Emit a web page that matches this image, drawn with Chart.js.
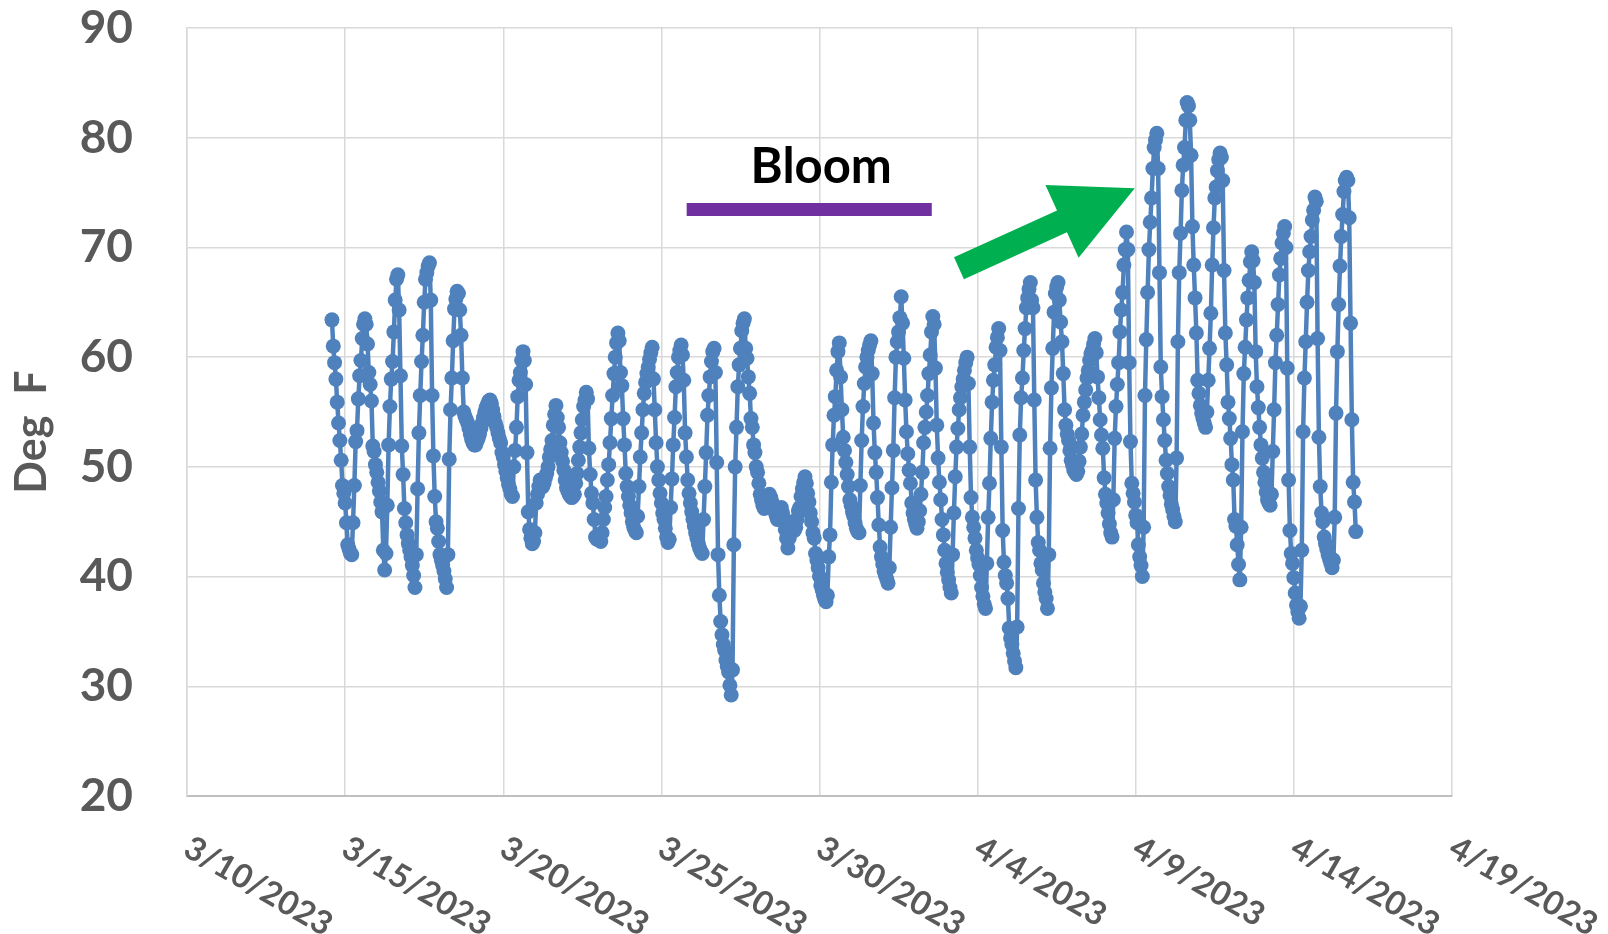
<!DOCTYPE html>
<html lang="en">
<head>
<meta charset="UTF-8">
<title>Deg F</title>
<script src="https://cdn.jsdelivr.net/npm/chart.js@4"></script>
<style>
  html, body { margin: 0; padding: 0; background: #fff; }
  #wrap { width: 1608px; height: 934px; }
</style>
</head>
<body>
<div id="wrap"><canvas id="tempChart" width="1608" height="934"></canvas></div>
<script>
// hourly readings (Deg F); first reading is 3/14/2023 14:00
// x axis is "days after 3/10/2023"
const startDay = 4 + 14 / 24;

const mar14to20 = [
  63.4, 61.0, 59.5, 58.0, 55.9, 54.0, 52.4, 50.6, 48.3, 47.6,
  46.7, 44.9, 42.9, 42.5, 42.1, 42.0, 44.9, 48.3, 52.3, 53.3, 56.2, 58.3, 59.7, 61.7, 63.0, 63.5, 63.0, 61.2, 58.6, 57.5, 56.0, 51.9, 51.4, 50.2,
  49.5, 48.6, 47.8, 46.8, 45.9, 42.4, 40.6, 42.1, 46.5, 52.0, 55.5, 58.0, 59.6, 62.3, 65.2, 67.1, 67.5, 64.3, 58.3, 51.9, 49.3, 46.2, 44.9, 43.8,
  43.0, 42.4, 41.8, 41.0, 40.1, 39.0, 42.0, 48.0, 53.1, 56.5, 59.6, 62.0, 65.0, 67.1, 67.7, 68.3, 68.6, 65.2, 56.5, 51.0, 47.3, 45.0, 44.4, 43.2,
  42.0, 41.5, 41.0, 40.5, 39.8, 39.0, 42.0, 50.7, 55.2, 58.1, 61.5, 64.4, 65.3, 66.0, 65.8, 64.3, 62.0, 58.1, 55.0, 54.6, 54.3, 54.0, 53.5, 53.0,
  52.5, 52.2, 52.0, 52.0, 52.3, 52.6, 53.0, 53.5, 54.0, 54.5, 55.0, 55.4, 55.7, 56.0, 56.1, 55.8, 55.2, 54.6, 54.0, 53.6, 53.1, 52.6, 52.2, 51.3,
  50.9, 50.2, 49.6, 49.0, 48.4, 48.0, 47.5, 47.3, 50.0, 51.5, 53.6, 56.4, 57.9, 58.6, 59.7, 60.5, 59.7, 57.5, 51.3, 45.9, 44.3, 43.5, 43.0, 43.2
];
const mar21to27 = [
  44.0, 46.7, 47.5, 48.2, 48.8, 48.5, 48.2, 48.5, 49.0, 49.4, 50.0, 50.9, 51.6, 52.4, 53.8, 54.8, 55.6, 54.5, 53.6, 52.2, 51.3, 50.5, 49.7, 48.8,
  48.1, 47.8, 47.5, 47.3, 47.2, 47.3, 47.5, 48.5, 49.4, 50.6, 51.8, 53.1, 54.3, 55.5, 56.1, 56.8, 56.2, 51.7, 49.3, 47.6, 46.7, 45.2, 43.6, 43.4,
  43.6, 43.4, 43.2, 44.0, 45.2, 46.3, 47.3, 48.8, 50.2, 52.2, 54.4, 56.5, 58.5, 60.0, 61.3, 62.2, 61.5, 58.6, 57.4, 54.4, 52.0, 49.4, 48.2, 47.3,
  46.5, 45.8, 45.0, 44.5, 44.2, 44.0, 45.5, 48.2, 50.9, 53.1, 55.2, 56.7, 57.7, 58.5, 59.1, 59.8, 60.4, 60.9, 58.0, 55.2, 52.2, 50.0, 48.8, 47.6,
  46.7, 45.8, 45.2, 44.4, 43.6, 43.1, 43.4, 46.3, 48.9, 52.0, 54.5, 57.3, 58.6, 60.0, 60.6, 61.1, 60.2, 57.9, 53.1, 50.9, 48.8, 47.6, 46.7, 45.9,
  45.2, 44.6, 44.0, 43.5, 43.0, 42.6, 42.3, 42.1, 45.2, 48.2, 51.3, 54.7, 56.5, 58.2, 59.6, 60.5, 60.8, 58.6, 50.4, 42.0, 38.3, 35.9, 34.7, 33.8,
  33.3, 32.4, 31.8, 31.3, 30.1, 29.2, 31.5, 42.9, 50.0, 53.6, 57.3, 59.3, 60.8, 62.4, 63.1, 63.5, 60.8, 59.9, 58.2, 56.7, 54.4, 53.6, 52.0, 51.3
];
const mar28toApr3 = [
  50.0, 49.5, 48.5, 47.5, 47.0, 46.5, 46.2, 46.3, 46.8, 47.3, 47.5, 47.2, 46.8, 46.4, 46.0, 45.6, 45.2, 45.5, 46.0, 46.3, 45.8, 45.0, 44.3, 43.5,
  42.6, 43.5, 44.3, 45.0, 44.6, 44.2, 44.5, 45.2, 46.0, 46.3, 47.3, 48.0, 48.6, 49.1, 48.5, 47.6, 46.8, 45.8, 45.0, 44.0, 43.5, 42.1, 41.5, 40.8,
  40.0, 39.2, 38.8, 38.3, 37.9, 37.7, 38.3, 41.8, 43.8, 48.6, 52.0, 54.7, 56.4, 58.8, 60.5, 61.3, 58.2, 55.2, 52.7, 51.5, 50.4, 49.3, 48.2, 47.0,
  46.5, 45.9, 45.5, 44.9, 44.4, 44.1, 44.0, 48.3, 52.4, 55.5, 57.6, 59.1, 60.0, 60.6, 61.1, 61.5, 58.5, 54.0, 51.3, 49.5, 47.2, 44.7, 42.7, 41.8,
  41.1, 40.5, 40.1, 39.8, 39.4, 40.8, 44.5, 48.1, 51.5, 56.3, 60.0, 61.4, 62.3, 63.6, 65.5, 63.1, 59.9, 56.1, 53.2, 51.2, 49.7, 48.5, 46.7, 45.8,
  45.2, 44.8, 44.4, 45.0, 46.0, 47.5, 49.5, 52.2, 53.6, 55.0, 56.5, 58.5, 60.2, 62.3, 63.7, 63.0, 59.0, 53.8, 50.8, 48.6, 47.0, 45.2, 43.8, 42.4,
  41.2, 40.4, 39.7, 39.0, 38.5, 42.0, 45.8, 49.1, 51.8, 53.5, 55.2, 56.3, 57.3, 58.0, 58.8, 59.5, 60.0, 57.6, 51.8, 47.2, 45.4, 44.5, 43.5, 42.4
];
const apr4to10 = [
  41.7, 41.1, 40.1, 39.0, 38.2, 37.5, 37.1, 41.2, 45.4, 48.5, 52.6, 55.9, 57.9, 59.3, 60.9, 61.8, 62.6, 60.6, 51.8, 44.2, 41.3, 40.1, 39.4, 38.0,
  35.3, 34.4, 33.8, 33.0, 32.3, 31.7, 35.4, 46.2, 52.9, 56.3, 58.1, 60.6, 62.6, 64.5, 65.4, 66.2, 66.8, 65.2, 64.5, 56.1, 48.8, 45.4, 43.1, 42.4,
  41.2, 40.6, 39.4, 38.6, 38.0, 37.1, 42.0, 51.7, 57.2, 60.8, 64.1, 65.8, 66.4, 66.8, 65.2, 63.2, 61.4, 58.5, 55.2, 53.8, 53.0, 52.4, 51.5, 50.6,
  50.2, 49.7, 49.5, 49.3, 49.6, 50.5, 51.8, 53.0, 54.7, 55.9, 57.0, 58.1, 58.8, 59.7, 60.3, 60.6, 61.2, 61.7, 60.4, 58.2, 56.3, 54.3, 52.9, 51.7,
  49.0, 47.5, 46.7, 45.8, 44.8, 44.0, 43.6, 47.0, 52.6, 55.5, 57.5, 59.5, 62.3, 64.3, 65.9, 68.4, 69.8, 71.4, 69.8, 59.5, 52.3, 48.5, 47.6, 46.8,
  45.6, 44.9, 42.9, 41.8, 41.0, 40.0, 44.5, 56.5, 61.6, 65.9, 69.8, 72.3, 74.5, 77.2, 79.1, 79.8, 80.4, 77.2, 67.7, 59.1, 56.4, 54.3, 52.4, 50.6,
  49.4, 48.2, 47.4, 46.6, 46.1, 45.5, 45.0, 50.8, 61.4, 67.7, 71.3, 75.2, 77.5, 79.1, 81.6, 83.2, 82.9, 81.6, 78.4, 71.9, 68.4, 65.4, 62.2, 57.9
];
const apr11to15 = [
  56.7, 55.6, 54.9, 54.4, 54.0, 53.6, 55.0, 57.9, 60.8, 64.0, 68.4, 71.8, 74.5, 75.5, 77.0, 78.0, 78.6, 78.2, 76.1, 67.9, 62.2, 59.3, 55.9, 54.4,
  52.6, 50.2, 48.8, 45.2, 44.6, 42.9, 41.1, 39.7, 44.5, 53.2, 58.5, 60.9, 63.4, 65.4, 67.0, 68.7, 69.6, 68.8, 66.8, 60.5, 57.3, 55.4, 53.6, 52.0,
  50.8, 49.5, 48.6, 47.7, 47.0, 46.7, 46.5, 47.5, 51.4, 55.2, 59.5, 62.0, 64.8, 67.5, 69.0, 70.4, 71.3, 71.9, 70.0, 59.0, 48.8, 44.2, 42.1, 41.2,
  39.9, 38.5, 37.4, 36.8, 36.2, 37.3, 42.4, 53.2, 58.1, 61.4, 65.0, 67.9, 69.6, 71.0, 72.5, 73.4, 74.6, 74.2, 61.7, 52.7, 48.2, 45.8, 45.0, 43.6,
  43.0, 42.5, 42.0, 41.6, 41.2, 40.8, 41.5, 45.4, 54.9, 60.5, 64.8, 68.3, 71.0, 73.0, 75.1, 76.1, 76.4, 76.1, 72.7, 63.1, 54.3, 48.6, 46.8, 44.1
];

const xTickLabels = ['3/10/2023', '3/15/2023', '3/20/2023', '3/25/2023', '3/30/2023',
                     '4/4/2023', '4/9/2023', '4/14/2023', '4/19/2023'];

// bloom period bar (days after 3/10) and its height on the Deg F scale
const bloomSpan = [15.8, 23.55];
const bloomLevel = 73.45;
// green arrow: from (day, Deg F) to (day, Deg F)
const arrowFrom = [24.41, 68.1];
const arrowTo = [29.97, 75.4];

const temps = [...mar14to20, ...mar21to27, ...mar28toApr3, ...apr4to10, ...apr11to15];
const tempPoints = temps.map((t, i) => ({ x: startDay + i / 24, y: t }));

const overlay = {
  id: 'overlay',
  afterDatasetsDraw(chart) {
    const { ctx, scales: { x, y } } = chart;
    ctx.save();
    // Bloom label
    ctx.fillStyle = '#000';
    ctx.font = 'bold 49px Lato';
    ctx.textAlign = 'center';
    ctx.textBaseline = 'middle';
    ctx.fillText('Bloom', x.getPixelForValue((bloomSpan[0] + bloomSpan[1]) / 2) + 12, y.getPixelForValue(bloomLevel) - 42);

    // arrow
    const ax = x.getPixelForValue(arrowFrom[0]), ay = y.getPixelForValue(arrowFrom[1]);
    const bx = x.getPixelForValue(arrowTo[0]), by = y.getPixelForValue(arrowTo[1]);
    const len = Math.hypot(bx - ax, by - ay);
    const ux = (bx - ax) / len, uy = (by - ay) / len;
    const nx = -uy, ny = ux;
    const shaft = 12, head = 40, headLen = 80;
    const hx = bx - ux * headLen, hy = by - uy * headLen;
    ctx.beginPath();
    ctx.moveTo(ax + nx * shaft, ay + ny * shaft);
    ctx.lineTo(hx + nx * shaft, hy + ny * shaft);
    ctx.lineTo(hx + nx * head, hy + ny * head);
    ctx.lineTo(bx, by);
    ctx.lineTo(hx - nx * head, hy - ny * head);
    ctx.lineTo(hx - nx * shaft, hy - ny * shaft);
    ctx.lineTo(ax - nx * shaft, ay - ny * shaft);
    ctx.closePath();
    ctx.fillStyle = '#00B050';
    ctx.fill();
    ctx.restore();
  },
  afterDraw(chart) {
    const { ctx, scales: { x, y } } = chart;
    ctx.save();
    ctx.fillStyle = '#595959';
    // slanted date labels
    ctx.font = 'bold 33px Lato';
    ctx.textAlign = 'left';
    ctx.textBaseline = 'top';
    xTickLabels.forEach((lab, i) => {
      ctx.save();
      ctx.translate(x.getPixelForValue(i * 5) + 8, y.bottom + 35);
      ctx.rotate(30 * Math.PI / 180);
      ctx.fillText(lab, 0, 0);
      ctx.restore();
    });
    // y axis title
    ctx.font = 'bold 43px Lato';
    ctx.textAlign = 'center';
    ctx.textBaseline = 'alphabetic';
    ctx.translate(46, 432);
    ctx.rotate(-Math.PI / 2);
    ctx.fillText('Deg  F', 0, 0);
    ctx.restore();
  }
};

new Chart(document.getElementById('tempChart'), {
  type: 'line',
  data: {
    datasets: [
      {
        data: tempPoints,
        borderColor: '#4F81BD',
        backgroundColor: '#4F81BD',
        borderWidth: 4.5,
        borderJoinStyle: 'round',
        pointRadius: 7.5,
        pointBorderWidth: 0,
        pointBackgroundColor: '#4F81BD',
        tension: 0
      },
      {
        data: [{ x: bloomSpan[0], y: bloomLevel }, { x: bloomSpan[1], y: bloomLevel }],
        borderColor: '#7030A0',
        borderWidth: 13,
        borderCapStyle: 'butt',
        pointRadius: 0
      }
    ]
  },
  options: {
    responsive: false,
    animation: false,
    layout: { padding: { top: 28, right: 156, left: 0, bottom: 0 } },
    plugins: { legend: { display: false }, tooltip: { enabled: false } },
    scales: {
      x: {
        type: 'linear',
        min: 0,
        max: 40,
        ticks: { stepSize: 5, display: false },
        grid: { color: '#d9d9d9', lineWidth: 1.5, drawTicks: false },
        border: { color: '#bfbfbf', width: 2 },
        afterFit(scale) { scale.height = 138; }
      },
      y: {
        min: 20,
        max: 90,
        ticks: {
          stepSize: 10,
          padding: 54,
          color: '#595959',
          font: { family: 'Lato', weight: 'bold', size: 46 }
        },
        grid: { color: '#d9d9d9', lineWidth: 1.5, drawTicks: false },
        border: { color: '#d9d9d9', width: 1.5 },
        afterFit(scale) {
          scale.width = 187;
          scale.paddingTop = 0;
          scale.paddingBottom = 0;
        }
      }
    }
  },
  plugins: [overlay]
});
</script>
</body>
</html>
